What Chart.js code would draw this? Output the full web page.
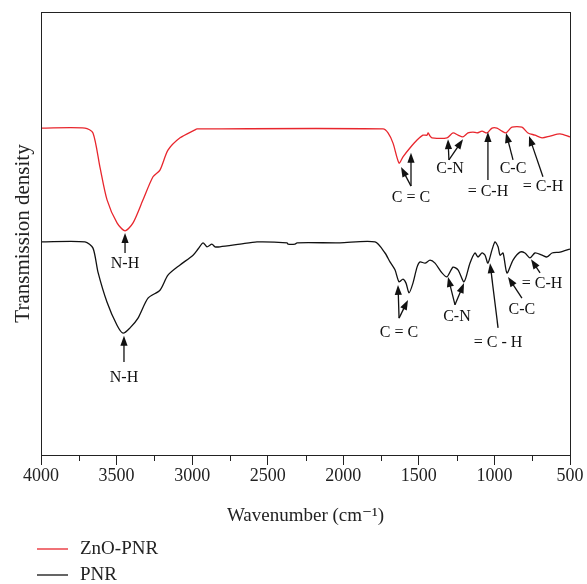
<!DOCTYPE html>
<html>
<head>
<meta charset="utf-8">
<script src="https://cdn.jsdelivr.net/npm/chart.js@4"></script>
<style>
  html, body { margin: 0; padding: 0; background: #fff; }
  #wrap { width: 587px; height: 584px; }
</style>
</head>
<body>
<div id="wrap"><canvas id="ftir"></canvas></div>
<script>
/* ── Data (wavenumber in cm-1, transmission in arbitrary units 0-100) ── */
const waveZnO = [4000, 3709, 3656, 3610, 3563, 3497, 3444, 3391, 3325, 3259, 3213, 3160, 3080, 2981, 2968,
  1737, 1704, 1671, 1631, 1605, 1559, 1512, 1473, 1446, 1439, 1426, 1413, 1314, 1274, 1241, 1208, 1175,
  1142, 1115, 1082, 1049, 1016, 983, 950, 923, 884, 818, 778, 732, 685, 632, 566, 500];
const transZnO = [73.8, 73.8, 72.7, 65.0, 57.6, 52.4, 50.6, 52.4, 57.6, 62.8, 64.3, 68.8, 71.6, 73.4, 73.6,
  73.6, 72.7, 70.4, 65.9, 67.3, 69.3, 71.1, 72.2, 72.2, 72.7, 72.0, 71.6, 71.6, 72.7, 72.2, 71.8, 72.7,
  72.9, 72.7, 73.1, 72.7, 73.8, 73.8, 73.1, 72.7, 74.0, 74.0, 72.7, 72.2, 71.6, 72.0, 72.5, 71.8];

const wavePNR = [4000, 3709, 3656, 3623, 3563, 3497, 3457, 3411, 3358, 3292, 3213, 3160, 3080, 2994, 2961,
  2928, 2902, 2869, 2849, 2816, 2683, 2571, 2372, 2366, 2319, 2306, 2022, 1790, 1724, 1691, 1658, 1631,
  1605, 1585, 1565, 1539, 1512, 1492, 1459, 1426, 1393, 1347, 1314, 1274, 1241, 1201, 1162, 1129, 1109,
  1082, 1062, 1043, 1016, 996, 976, 963, 943, 917, 877, 831, 798, 765, 732, 685, 652, 619, 566, 500];
const transPNR = [48.1, 48.1, 46.7, 41.3, 34.5, 29.3, 27.5, 28.7, 30.9, 35.4, 37.2, 40.6, 42.9, 45.1, 46.5,
  47.9, 47.0, 47.6, 47.0, 47.0, 47.6, 48.1, 47.9, 47.6, 47.6, 47.9, 47.9, 48.1, 45.6, 43.6, 41.8, 39.1,
  39.7, 38.8, 36.6, 38.8, 42.4, 43.6, 43.3, 44.0, 43.3, 41.1, 40.2, 42.4, 41.8, 39.1, 43.3, 45.6, 44.7,
  45.6, 45.1, 43.3, 46.3, 48.1, 47.0, 45.1, 45.6, 41.1, 44.0, 45.8, 45.6, 44.5, 45.6, 45.1, 44.7, 45.6, 45.8, 46.5];

const xTicks = [4000, 3500, 3000, 2500, 2000, 1500, 1000, 500];
const xMinorTicks = [3750, 3250, 2750, 2250, 1750, 1250, 750];

/* ── Peak annotations: label, text position, arrows [tipW, tipV, baseW, baseV] ── */
const annLabels = ['N-H', 'C = C', 'C-N', '= C-H', 'C-C', '= C-H',
                   'N-H', 'C = C', 'C-N', '= C - H', 'C-C', '= C-H'];
const annTextW  = [3444, 1552, 1294, 1043, 877, 679,
                   3451, 1631, 1248, 976, 818, 685];
const annTextV  = [43.1, 58.0, 64.6, 59.4, 64.6, 60.5,
                   17.4, 27.5, 31.2, 25.3, 32.7, 38.6];
const annArrows = [
  [[3444, 50.1, 3444, 45.6]],
  [[1618, 65.0, 1552, 60.7], [1552, 68.2, 1552, 60.7]],
  [[1307, 71.3, 1301, 66.6], [1208, 71.3, 1301, 66.6]],
  [[1043, 72.9, 1043, 62.1]],
  [[923, 72.7, 877, 66.6]],
  [[771, 72.0, 679, 62.8]],
  [[3451, 26.9, 3451, 21.0]],
  [[1638, 38.4, 1631, 30.9], [1572, 35.0, 1631, 30.9]],
  [[1307, 40.2, 1261, 33.9], [1201, 38.8, 1261, 33.9]],
  [[1029, 43.3, 976, 28.7]],
  [[910, 40.2, 818, 35.4]],
  [[758, 44.2, 698, 41.1]]
];

const SERIF = '"Liberation Serif", "DejaVu Serif", serif';
const AXIS_COLOR = '#222';

function toPoints(ws, vs) {
  return ws.map((w, i) => ({ x: w, y: vs[i] }));
}

function drawArrow(ctx, x1, y1, x0, y0) {
  // x1,y1 = tip ; x0,y0 = base
  const ang = Math.atan2(y1 - y0, x1 - x0);
  const head = 10, half = 3.6;
  ctx.beginPath();
  ctx.moveTo(x0, y0);
  ctx.lineTo(x1 - Math.cos(ang) * head * 0.8, y1 - Math.sin(ang) * head * 0.8);
  ctx.stroke();
  ctx.beginPath();
  ctx.moveTo(x1, y1);
  ctx.lineTo(x1 - Math.cos(ang) * head + Math.sin(ang) * half, y1 - Math.sin(ang) * head - Math.cos(ang) * half);
  ctx.lineTo(x1 - Math.cos(ang) * head - Math.sin(ang) * half, y1 - Math.sin(ang) * head + Math.cos(ang) * half);
  ctx.closePath();
  ctx.fill();
}

/* ── Frame, minor ticks, annotations and legend ── */
const decorPlugin = {
  id: 'decor',
  afterDraw(chart) {
    const { ctx, chartArea: a, scales: { x, y } } = chart;
    ctx.save();
    ctx.strokeStyle = AXIS_COLOR;
    ctx.lineWidth = 1;
    ctx.strokeRect(Math.round(a.left) + 0.5, Math.round(a.top) + 0.5, Math.round(a.right - a.left), Math.round(a.bottom - a.top));

    // minor ticks
    xMinorTicks.forEach(w => {
      const px = Math.round(x.getPixelForValue(w)) + 0.5;
      ctx.beginPath();
      ctx.moveTo(px, a.bottom);
      ctx.lineTo(px, a.bottom + 6);
      ctx.stroke();
    });

    // peak labels + arrows
    ctx.fillStyle = '#111';
    ctx.strokeStyle = '#111';
    ctx.lineWidth = 1.3;
    ctx.font = '16px ' + SERIF;
    ctx.textAlign = 'center';
    ctx.textBaseline = 'middle';
    annLabels.forEach((lab, i) => {
      ctx.fillText(lab, x.getPixelForValue(annTextW[i]), y.getPixelForValue(annTextV[i]));
      annArrows[i].forEach(ar => {
        drawArrow(ctx, x.getPixelForValue(ar[0]), y.getPixelForValue(ar[1]),
                       x.getPixelForValue(ar[2]), y.getPixelForValue(ar[3]));
      });
    });

    // legend (stacked, bottom-left)
    ctx.font = '19px ' + SERIF;
    ctx.textAlign = 'left';
    chart.data.datasets.forEach((ds, i) => {
      const ly = 549 + i * 26;
      ctx.strokeStyle = ds.borderColor;
      ctx.lineWidth = 1.3;
      ctx.beginPath();
      ctx.moveTo(37, ly);
      ctx.lineTo(68, ly);
      ctx.stroke();
      ctx.fillStyle = '#222';
      ctx.fillText(ds.label, 80, ly);
    });
    ctx.restore();
  }
};

new Chart(document.getElementById('ftir'), {
  type: 'line',
  data: {
    datasets: [
      {
        label: 'ZnO-PNR',
        data: toPoints(waveZnO, transZnO),
        borderColor: '#e8262d',
        borderWidth: 1.3,
        pointRadius: 0,
        tension: 0.25,
        fill: false
      },
      {
        label: 'PNR',
        data: toPoints(wavePNR, transPNR),
        borderColor: '#111111',
        borderWidth: 1.3,
        pointRadius: 0,
        tension: 0.25,
        fill: false
      }
    ]
  },
  options: {
    responsive: true,
    maintainAspectRatio: false,
    animation: false,
    layout: { padding: { left: 0, right: 17, top: 12, bottom: 0 } },
    plugins: {
      legend: { display: false },
      tooltip: { enabled: false }
    },
    scales: {
      x: {
        type: 'linear',
        min: 500, max: 4000,
        reverse: true,
        afterBuildTicks: s => { s.ticks = xTicks.map(v => ({ value: v })); },
        afterFit: s => { s.height = 129; },
        ticks: {
          color: '#222',
          font: { family: SERIF, size: 18 },
          padding: 0,
          maxRotation: 0,
          callback: v => String(v)
        },
        grid: { drawOnChartArea: false, drawTicks: true, tickLength: 10, color: AXIS_COLOR, tickColor: AXIS_COLOR },
        border: { display: true, color: AXIS_COLOR, width: 1 },
        title: {
          display: true,
          text: 'Wavenumber (cm⁻¹)',
          color: '#222',
          font: { family: SERIF, size: 19 },
          padding: { top: 0, bottom: 57 }
        }
      },
      y: {
        min: 0, max: 100,
        afterFit: s => { s.width = 41; },
        ticks: { display: false },
        grid: { display: false },
        border: { display: true, color: AXIS_COLOR, width: 1 },
        title: {
          display: true,
          text: 'Transmission density',
          color: '#222',
          font: { family: SERIF, size: 21 },
          padding: { top: 11, bottom: 0 }
        }
      }
    }
  },
  plugins: [decorPlugin]
});
</script>
</body>
</html>
